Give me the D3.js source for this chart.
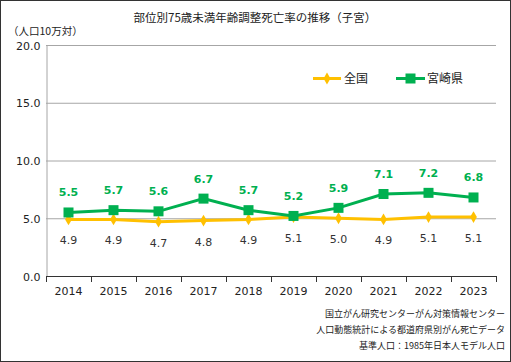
<!DOCTYPE html>
<html lang="ja">
<head>
<meta charset="utf-8">
<title>部位別75歳未満年齢調整死亡率の推移（子宮）</title>
<script src="https://d3js.org/d3.v7.min.js"></script>
<style>
  body { margin: 0; background: #fff; }
</style>
</head>
<body>
<script>
// データ
var years = ["2014", "2015", "2016", "2017", "2018", "2019", "2020", "2021", "2022", "2023"];
var zenkoku = [4.9, 4.9, 4.7, 4.8, 4.9, 5.1, 5.0, 4.9, 5.1, 5.1];
var miyazaki = [5.5, 5.7, 5.6, 6.7, 5.7, 5.2, 5.9, 7.1, 7.2, 6.8];
var yTicks = [0, 5, 10, 15, 20];
var sources = ["国立がん研究センターがん対策情報センター", "人口動態統計による都道府県別がん死亡データ", "基準人口：1985年日本人モデル人口"];

var w = 511, h = 362;
var plotL = 46, plotR = 496, plotT = 45, plotB = 276;
var yellow = "#FFC000", green = "#00B050";
var numFont = "'DejaVu Sans', Verdana, sans-serif";
var jpFont = "'Noto Sans CJK JP', sans-serif";

var svg = d3.select("body").append("svg")
    .attr("width", w)
    .attr("height", h);

svg.append("rect")
    .attr("x", 0.5).attr("y", 0.5)
    .attr("width", w - 1).attr("height", h - 1)
    .attr("fill", "#fff")
    .attr("stroke", "#333");

var x = d3.scaleBand().domain(years).range([plotL, plotR]);
var y = d3.scaleLinear().domain([0, 20]).range([plotB, plotT]);

// グリッド
svg.selectAll(".grid").data(yTicks.slice(1)).enter()
    .append("line")
    .attr("x1", plotL).attr("x2", plotR)
    .attr("y1", d => y(d) + 0.5).attr("y2", d => y(d) + 0.5)
    .attr("stroke", "#a6a6a6");

// Y軸
var yAxis = svg.append("g")
    .attr("transform", "translate(" + (plotL + 0.5) + ",0.5)")
    .call(d3.axisLeft(y).tickValues(yTicks).tickFormat(d3.format(".1f")).tickSize(0).tickPadding(6));
yAxis.attr("font-family", numFont);
yAxis.select(".domain").attr("stroke", "#a6a6a6");
yAxis.selectAll("text").attr("font-size", 11).attr("fill", "#222");

// X軸
var xAxis = svg.append("g")
    .attr("transform", "translate(0," + (plotB + 0.5) + ")")
    .call(d3.axisBottom(x).tickSize(0).tickPadding(11));
xAxis.attr("font-family", numFont);
xAxis.select(".domain").attr("stroke", "#333").attr("d", "M" + plotL + ",0H" + plotR);
xAxis.selectAll("text").attr("font-size", 11).attr("fill", "#222");
svg.selectAll(".xtick").data(d3.range(years.length + 1)).enter()
    .append("line")
    .attr("x1", i => Math.round(plotL + i * x.step()) + 0.5)
    .attr("x2", i => Math.round(plotL + i * x.step()) + 0.5)
    .attr("y1", plotB).attr("y2", plotB + 6)
    .attr("stroke", "#333");

var cx = d => x(d) + x.bandwidth() / 2;
var line = d3.line().x((d, i) => cx(years[i])).y(d => y(d));

// 全国
svg.append("path").datum(zenkoku)
    .attr("d", line).attr("fill", "none")
    .attr("stroke", yellow).attr("stroke-width", 3);
svg.selectAll(".zp").data(zenkoku).enter()
    .append("path")
    .attr("d", d3.symbol(d3.symbolDiamond, 40))
    .attr("transform", (d, i) => "translate(" + cx(years[i]) + "," + y(d) + ")")
    .attr("fill", yellow);
svg.selectAll(".zl").data(zenkoku).enter()
    .append("text")
    .attr("x", (d, i) => cx(years[i]))
    .attr("y", d => y(d) + 25)
    .attr("text-anchor", "middle")
    .attr("font-family", numFont)
    .attr("font-size", 11)
    .attr("fill", "#333")
    .text(d => d.toFixed(1));

// 宮崎県
svg.append("path").datum(miyazaki)
    .attr("d", line).attr("fill", "none")
    .attr("stroke", green).attr("stroke-width", 3);
svg.selectAll(".mp").data(miyazaki).enter()
    .append("rect")
    .attr("x", (d, i) => cx(years[i]) - 5)
    .attr("y", d => y(d) - 5)
    .attr("width", 10).attr("height", 10)
    .attr("fill", green);
svg.selectAll(".ml").data(miyazaki).enter()
    .append("text")
    .attr("x", (d, i) => cx(years[i]))
    .attr("y", d => y(d) - 16)
    .attr("text-anchor", "middle")
    .attr("font-family", numFont)
    .attr("font-size", 11)
    .attr("font-weight", "bold")
    .attr("fill", green)
    .text(d => d.toFixed(1));

// 凡例
var lg = svg.append("g").attr("font-family", jpFont);
lg.append("line").attr("x1", 313).attr("x2", 341).attr("y1", 78.5).attr("y2", 78.5)
    .attr("stroke", yellow).attr("stroke-width", 3);
lg.append("path").attr("d", d3.symbol(d3.symbolDiamond, 40))
    .attr("transform", "translate(327,78.5)").attr("fill", yellow);
lg.append("text").attr("x", 344).attr("y", 83)
    .attr("font-size", 12).attr("fill", "#222").text("全国");
lg.append("line").attr("x1", 396).attr("x2", 425).attr("y1", 78.5).attr("y2", 78.5)
    .attr("stroke", green).attr("stroke-width", 3);
lg.append("rect").attr("x", 405.5).attr("y", 73.5).attr("width", 10).attr("height", 10)
    .attr("fill", green);
lg.append("text").attr("x", 427).attr("y", 83)
    .attr("font-size", 12).attr("fill", "#222").text("宮崎県");

// タイトル
svg.append("text")
    .attr("x", 255).attr("y", 22)
    .attr("text-anchor", "middle")
    .attr("font-family", jpFont)
    .attr("font-size", 11.5).attr("fill", "#222")
    .text("部位別75歳未満年齢調整死亡率の推移（子宮）");

svg.append("text")
    .attr("x", 8).attr("y", 35)
    .attr("font-family", jpFont)
    .attr("font-size", 10.5).attr("fill", "#222")
    .text("（人口10万対）");

// 出典
svg.selectAll(".src").data(sources).enter()
    .append("text")
    .attr("x", 505)
    .attr("y", (d, i) => 317 + i * 16)
    .attr("text-anchor", "end")
    .attr("font-family", jpFont)
    .attr("font-size", 9)
    .attr("fill", "#222")
    .text(d => d);
</script>
</body>
</html>
